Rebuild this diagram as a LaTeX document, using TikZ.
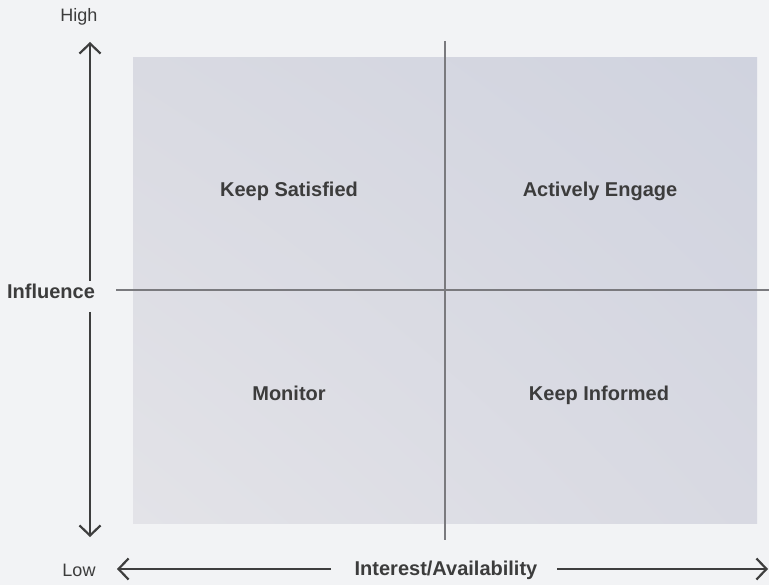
\documentclass[tikz,border=0pt]{standalone}
\usepackage{fontspec}
\setmainfont{Liberation Sans}
\usetikzlibrary{arrows.meta,shadings}
\definecolor{bg}{HTML}{F2F3F5}
\definecolor{txt}{HTML}{3C3C3C}
\definecolor{axis}{HTML}{3E3E3E}
\definecolor{grid}{HTML}{7A7A7E}
\definecolor{cTL}{HTML}{D9DAE2}
\definecolor{cTR}{HTML}{D0D3DF}
\definecolor{cBL}{HTML}{E3E3E8}
\definecolor{cBR}{HTML}{D8D9E2}
\tikzset{
  axisarrow/.style={draw=axis, line width=2.2pt, -{Straight Barb[length=10pt,width=21pt,line width=2.2pt]}},
  gridline/.style={draw=grid, line width=1.4pt},
  quad/.style={font=\bfseries\fontsize{20}{24}\selectfont, text=txt, text height=1.5ex, text depth=.4ex},
  axlabel/.style={font=\bfseries\fontsize{20}{24}\selectfont, text=txt, text height=1.5ex, text depth=.4ex},
  endlabel/.style={font=\fontsize{18}{20}\selectfont, text=txt, text height=1.5ex, text depth=.4ex}
}
\begin{document}
\begin{tikzpicture}[x=1pt,y=-1pt]
\fill[bg] (0,0) rectangle (769,585);
\useasboundingbox (0,0) rectangle (769,585);
\shade[upper left=cTL, upper right=cTR, lower left=cBL, lower right=cBR] (133,523) rectangle (757,58);
% grid lines
\coordinate (vtop) at (445,41);
\coordinate (vbot) at (445,540);
\coordinate (hleft) at (116,290);
\coordinate (hright) at (769,290);
\draw[gridline] (vtop) -- (vbot);
\draw[gridline] (hleft) -- (hright);
% labels
\node[quad] (ks) at (289,194) {Keep Satisfied};
\node[quad] (ae) at (600,194) {Actively Engage};
\node[quad] (mo) at (289,398) {Monitor};
\node[quad] (ki) at (599,398) {Keep Informed};
\node[endlabel] (high) at (79,19) {High};
\node[endlabel] (low) at (79,574) {Low};
\node[axlabel] (infl) at (51,296) {Influence};
\node[axlabel] (intr) at (446,573) {Interest/Availability};
% axes
\coordinate (vup0) at (90,281);
\coordinate (vup1) at (90,42);
\coordinate (vdn0) at (90,312);
\coordinate (vdn1) at (90,537);
\coordinate (hl0) at (331,569);
\coordinate (hl1) at (117,569);
\coordinate (hr0) at (557,569);
\coordinate (hr1) at (768,569);
\draw[axisarrow] (vup0) -- (vup1);
\draw[axisarrow] (vdn0) -- (vdn1);
\draw[axisarrow] (hl0) -- (hl1);
\draw[axisarrow] (hr0) -- (hr1);
\end{tikzpicture}
\end{document}
